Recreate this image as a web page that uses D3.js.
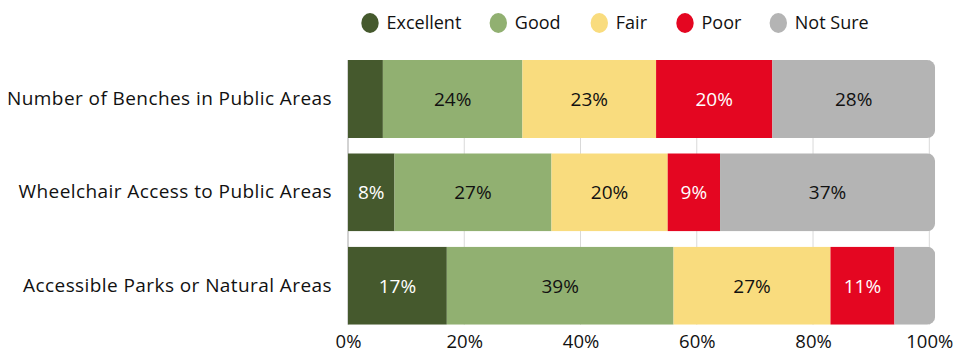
<!DOCTYPE html>
<html>
<head>
<meta charset="utf-8">
<script src="https://cdn.jsdelivr.net/npm/d3@7"></script>
<style>
  html, body { margin: 0; padding: 0; background: #fff; }
  svg { display: block; font-family: "Open Sans", sans-serif; }
</style>
</head>
<body>
<svg id="chart" width="958" height="352"></svg>
<script>
// Survey ratings of accessibility features (percent of respondents)
const categories = [
  "Number of Benches in Public Areas",
  "Wheelchair Access to Public Areas",
  "Accessible Parks or Natural Areas"
];
const seriesNames = ["Excellent", "Good", "Fair", "Poor", "Not Sure"];
const excellent = [6, 8, 17];
const good      = [24, 27, 39];
const fair      = [23, 20, 27];
const poor      = [20, 9, 11];
const notSure   = [28, 37, 7];
// Which segments carry a printed value (the thin ones stay unlabeled)
const showLabel = [
  [false, true, true, true, true],
  [true, true, true, true, true],
  [true, true, true, true, false]
];
const tickValues = [0, 20, 40, 60, 80, 100];
const colors = ["#45592d", "#91b071", "#f9dc7e", "#e40621", "#b4b4b4"];
const labelColors = ["#ffffff", "#111111", "#111111", "#ffffff", "#111111"];

const seriesValues = [excellent, good, fair, poor, notSure];
const rows = categories.map((c, i) => {
  const r = { category: c };
  seriesNames.forEach((s, k) => { r[s] = seriesValues[k][i]; });
  return r;
});
const stacked = d3.stack().keys(seriesNames)(rows);

const svg = d3.select("#chart");
const x = d3.scaleLinear().domain([0, 100]).range([348, 929.3]);
const y = d3.scaleBand().domain(categories).range([60, 324.7]).paddingInner(0.164).paddingOuter(0);

// Vertical gridlines spanning the bar area
svg.append("g").selectAll("line").data(tickValues).join("line")
  .attr("x1", d => x(d)).attr("x2", d => x(d))
  .attr("y1", y.range()[0]).attr("y2", y.range()[1])
  .attr("stroke", d => d === 0 ? "#a6a6a6" : "#d9d9d9")
  .attr("stroke-width", 1);

// Each bar is clipped to a shape rounded on its right end
const defs = svg.append("defs");
rows.forEach((r, i) => {
  const total = d3.sum(seriesNames, s => r[s]);
  defs.append("clipPath").attr("id", "bar-clip-" + i)
    .append("rect")
    .attr("x", x(0) - 20)
    .attr("y", y(r.category))
    .attr("width", x(total) - x(0) + 20)
    .attr("height", y.bandwidth())
    .attr("rx", 8).attr("ry", 8);
});

const barGroups = svg.append("g").selectAll("g").data(rows).join("g")
  .attr("clip-path", (d, i) => `url(#bar-clip-${i})`);

barGroups.selectAll("rect")
  .data((d, i) => stacked.map((layer, k) => ({ k, seg: layer[i], cat: d.category })))
  .join("rect")
  .attr("x", d => x(d.seg[0]))
  .attr("y", d => y(d.cat))
  .attr("width", d => x(d.seg[1]) - x(d.seg[0]))
  .attr("height", y.bandwidth())
  .attr("fill", d => colors[d.k]);

// Value labels centred in each segment
const valueLabels = [];
rows.forEach((r, i) => {
  stacked.forEach((layer, k) => {
    if (showLabel[i][k]) valueLabels.push({ i, k, seg: layer[i], cat: r.category, v: r[seriesNames[k]] });
  });
});
svg.append("g").selectAll("text").data(valueLabels).join("text")
  .attr("x", d => (x(d.seg[0]) + x(d.seg[1])) / 2)
  .attr("y", d => y(d.cat) + y.bandwidth() / 2)
  .attr("dy", "0.36em")
  .attr("text-anchor", "middle")
  .attr("font-size", 19)
  .attr("fill", d => labelColors[d.k])
  .text(d => d.v + "%");

// Category labels
const yAxis = svg.append("g")
  .attr("transform", `translate(${x(0)},0)`)
  .call(d3.axisLeft(y).tickSize(0).tickPadding(16));
yAxis.select(".domain").remove();
yAxis.selectAll("text")
  .attr("font-size", 19)
  .attr("letter-spacing", 0.42)
  .attr("font-family", "'Open Sans', sans-serif")
  .attr("fill", "#111");

// Percent axis along the bottom
const xAxis = svg.append("g")
  .attr("transform", `translate(0,${y.range()[1]})`)
  .call(d3.axisBottom(x).tickValues(tickValues).tickFormat(d => d + "%").tickSize(0).tickPadding(10));
xAxis.select(".domain").remove();
xAxis.selectAll("text")
  .attr("font-size", 18.5)
  .attr("font-family", "'Open Sans', sans-serif")
  .attr("fill", "#111");

// Legend across the top
const legendX = [370, 498.3, 599.3, 685, 778.3];
const legend = svg.append("g").selectAll("g").data(seriesNames).join("g")
  .attr("transform", (d, k) => `translate(${legendX[k]},23)`);
legend.append("ellipse").attr("rx", 8.7).attr("ry", 10).attr("fill", (d, k) => colors[k]);
legend.append("text")
  .attr("x", 16.5).attr("dy", "0.36em")
  .attr("font-size", 18)
  .attr("fill", "#111")
  .text(d => d);
</script>
</body>
</html>
